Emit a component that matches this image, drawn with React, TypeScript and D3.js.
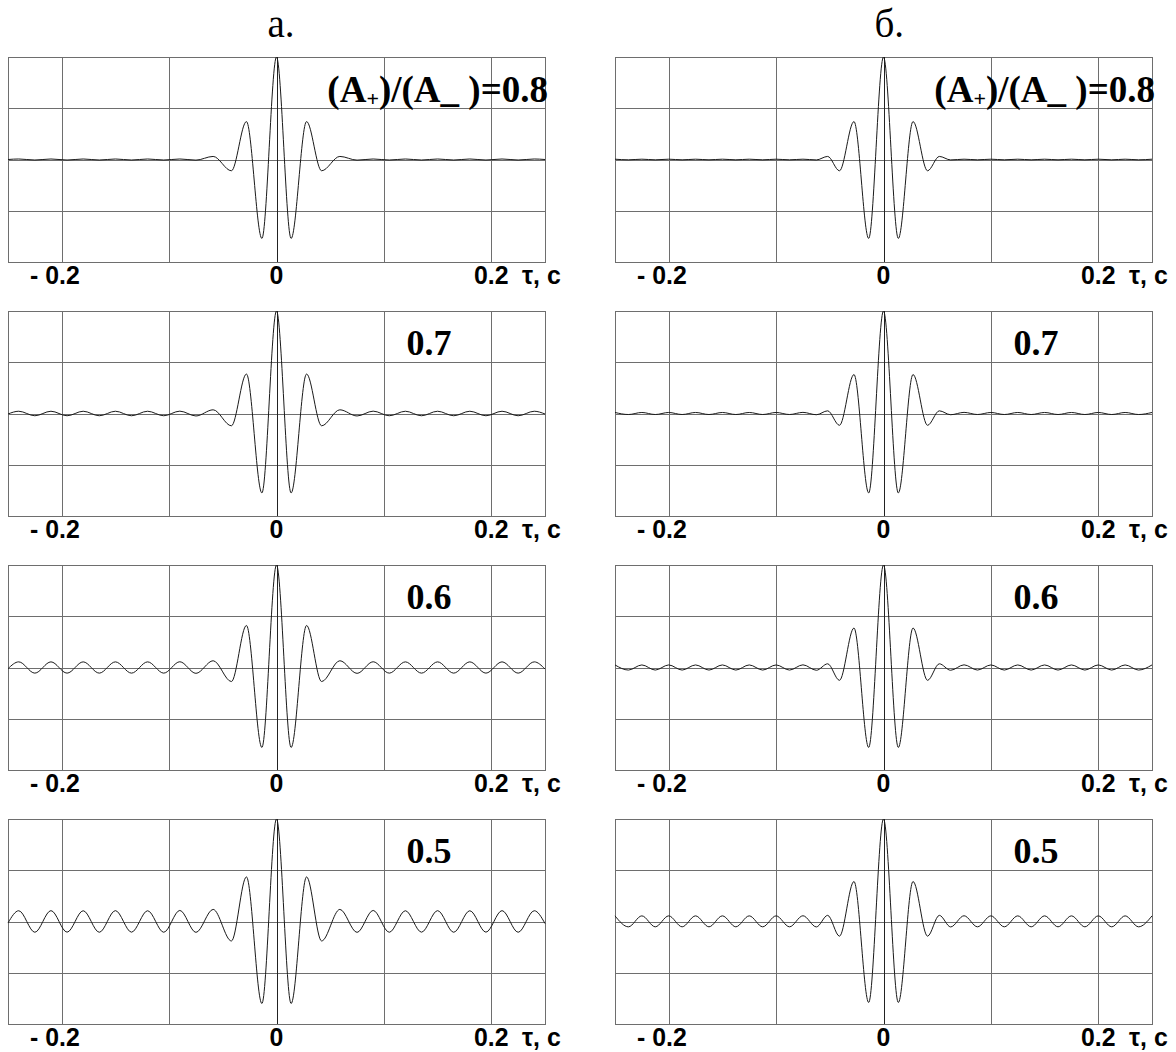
import React from "react";
import * as d3 from "d3";

// time axis (s) and grid
const tauDomain = [-0.25, 0.25];
const gridT = [-0.2, -0.1, 0, 0.1, 0.2];
const gridV = [-0.5, 0, 0.5];
const tickT = [-0.2, 0, 0.2];
const tickText = ["- 0.2", "0", "0.2"];
const unitText = "τ, c";
const columnTitles = ["а.", "б."];
const ratioText = ["0.8", "0.7", "0.6", "0.5"];

// column a: times of the extremes
const timesA = [
  -0.25, -0.24, -0.225, -0.21, -0.195, -0.18, -0.165, -0.15, -0.135, -0.12, -0.105, -0.09,
  -0.075, -0.059, -0.042, -0.028, -0.0136, 0, 0.0136, 0.028, 0.042, 0.059, 0.075, 0.09,
  0.105, 0.12, 0.135, 0.15, 0.165, 0.18, 0.195, 0.21, 0.225, 0.24, 0.25,
];
const waveA08 = [
  0, 0.005, -0.005, 0.005, -0.005, 0.005, -0.005, 0.005, -0.005, 0.005, -0.005, 0.005,
  -0.006, 0.03, -0.11, 0.37, -0.77, 1, -0.77, 0.37, -0.11, 0.03, -0.006, 0.005,
  -0.005, 0.005, -0.005, 0.005, -0.005, 0.005, -0.005, 0.005, -0.005, 0.005, 0,
];
const waveA07 = [
  -0.005, 0.022, -0.022, 0.022, -0.022, 0.022, -0.022, 0.022, -0.022, 0.022, -0.022, 0.023,
  -0.024, 0.036, -0.12, 0.385, -0.775, 1, -0.775, 0.385, -0.12, 0.036, -0.024, 0.023,
  -0.022, 0.022, -0.022, 0.022, -0.022, 0.022, -0.022, 0.022, -0.022, 0.022, -0.005,
];
const waveA06 = [
  -0.012, 0.055, -0.055, 0.055, -0.055, 0.055, -0.055, 0.055, -0.055, 0.055, -0.055, 0.056,
  -0.057, 0.066, -0.137, 0.41, -0.78, 1, -0.78, 0.41, -0.137, 0.066, -0.057, 0.056,
  -0.055, 0.055, -0.055, 0.055, -0.055, 0.055, -0.055, 0.055, -0.055, 0.055, -0.015,
];
const waveA05 = [
  -0.015, 0.105, -0.105, 0.106, -0.104, 0.105, -0.105, 0.106, -0.104, 0.105, -0.105, 0.108,
  -0.106, 0.118, -0.19, 0.435, -0.8, 1, -0.8, 0.435, -0.19, 0.118, -0.106, 0.108,
  -0.105, 0.105, -0.104, 0.106, -0.105, 0.105, -0.104, 0.106, -0.105, 0.105, -0.02,
];

// column б
const timesB = [
  -0.25, -0.2375, -0.225, -0.2125, -0.2, -0.1875, -0.175, -0.1625, -0.15, -0.1375, -0.125,
  -0.1125, -0.1, -0.0875, -0.075, -0.0625, -0.052, -0.041, -0.0275, -0.0138, 0, 0.0138,
  0.0275, 0.041, 0.052, 0.0625, 0.075, 0.0875, 0.1, 0.1125, 0.125, 0.1375, 0.15, 0.1625,
  0.175, 0.1875, 0.2, 0.2125, 0.225, 0.2375, 0.25,
];
const waveB08 = [
  0.003, -0.003, 0.003, -0.003, 0.003, -0.003, 0.003, -0.003, 0.003, -0.003, 0.003,
  -0.003, 0.003, -0.003, 0.003, -0.004, 0.03, -0.11, 0.37, -0.77, 1, -0.77,
  0.37, -0.11, 0.03, -0.004, 0.003, -0.003, 0.003, -0.003, 0.003, -0.003, 0.003, -0.003,
  0.003, -0.003, 0.003, -0.003, 0.003, -0.003, 0.003,
];
const waveB07 = [
  0.01, -0.01, 0.01, -0.01, 0.01, -0.01, 0.01, -0.01, 0.01, -0.01, 0.01,
  -0.01, 0.01, -0.01, 0.011, -0.012, 0.026, -0.115, 0.38, -0.775, 1, -0.775,
  0.38, -0.115, 0.026, -0.012, 0.011, -0.01, 0.01, -0.01, 0.01, -0.01, 0.01, -0.01,
  0.01, -0.01, 0.01, -0.01, 0.01, -0.01, 0.01,
];
const waveB06 = [
  0.025, -0.025, 0.025, -0.025, 0.025, -0.025, 0.025, -0.025, 0.025, -0.025, 0.025,
  -0.025, 0.025, -0.025, 0.026, -0.027, 0.036, -0.125, 0.385, -0.78, 1, -0.78,
  0.385, -0.125, 0.036, -0.027, 0.026, -0.025, 0.025, -0.025, 0.025, -0.025, 0.025, -0.025,
  0.025, -0.025, 0.025, -0.025, 0.025, -0.025, 0.025,
];
const waveB05 = [
  0.055, -0.052, 0.055, -0.052, 0.055, -0.052, 0.055, -0.052, 0.055, -0.052, 0.055,
  -0.052, 0.055, -0.052, 0.056, -0.053, 0.06, -0.143, 0.39, -0.79, 1, -0.79,
  0.39, -0.143, 0.06, -0.053, 0.056, -0.052, 0.055, -0.052, 0.055, -0.052, 0.055, -0.052,
  0.055, -0.052, 0.055, -0.052, 0.055, -0.052, 0.055,
];

const columns = [
  { title: columnTitles[0], times: timesA, waves: [waveA08, waveA07, waveA06, waveA05] },
  { title: columnTitles[1], times: timesB, waves: [waveB08, waveB07, waveB06, waveB05] },
];

const W = 1176;
const H = 1052;
const colLeft = [8, 615];
const rowTop = [57, 311, 565, 819];
const panelW = 537;
const panelH = 205;
const gridColor = "#6e6e6e";
const sans = "'Liberation Sans', Arial, sans-serif";
const serif = "'Liberation Serif', 'Times New Roman', serif";

function Panel({ x0, y0, times, values, ratio, first }) {
  const x = d3.scaleLinear().domain(tauDomain).range([x0, x0 + panelW]);
  const y = d3.scaleLinear().domain([-1, 1]).range([y0 + panelH, y0]);
  const crisp = (v) => Math.round(v) + 0.5;

  const line = d3
    .line<number>()
    .x((_, i) => x(times[i]))
    .y((v) => y(v))
    .curve(d3.curveMonotoneX);

  const labelY = y0 + panelH + 22;

  return (
    <g>
      <g stroke={gridColor} strokeWidth={1} shapeRendering="crispEdges" fill="none">
        {gridT.map((t) => (
          <line key={t} x1={crisp(x(t))} x2={crisp(x(t))} y1={y0} y2={y0 + panelH} />
        ))}
        {gridV.map((v) => (
          <line key={v} x1={x0} x2={x0 + panelW} y1={crisp(y(v))} y2={crisp(y(v))} />
        ))}
        <rect x={x0 + 0.5} y={y0 + 0.5} width={panelW} height={panelH} />
      </g>
      <line x1={crisp(x(0))} x2={crisp(x(0))} y1={y0} y2={y0 + panelH} stroke="#222" strokeWidth={1} shapeRendering="crispEdges" />

      <path d={line(values) || ""} fill="none" stroke="#1a1a1a" strokeWidth={1} />

      {first ? (
        <text x={x0 + panelW + 3} y={y0 + 45} textAnchor="end" fontFamily={serif} fontWeight="bold" fontSize={37} fill="#000">
          <tspan>(A</tspan>
          <tspan fontSize={22} dy={4}>+</tspan>
          <tspan dy={-4}>)/(A_ )=</tspan>
          <tspan>{ratio}</tspan>
        </text>
      ) : (
        <text x={x0 + 421} y={y0 + 44} textAnchor="middle" fontFamily={serif} fontWeight="bold" fontSize={36} fill="#000">
          {ratio}
        </text>
      )}

      <g fontFamily={sans} fontWeight="bold" fontSize={23} fill="#000">
        {tickT.map((t, i) => (
          <text
            key={t}
            transform={`translate(${i === 0 ? x(t) + 18 : x(t)},${labelY}) scale(1.08,1.1)`}
            textAnchor={i === 0 ? "end" : "middle"}
          >
            {tickText[i]}
          </text>
        ))}
        <text transform={`translate(${x0 + 514},${labelY}) scale(1.08,1.1)`}>{unitText}</text>
      </g>
    </g>
  );
}

export default function App() {
  return (
    <svg width={W} height={H} style={{ position: "absolute", left: 0, top: 0, background: "#fff" }}>
      <rect width={W} height={H} fill="#fff" />
      {columns.map((col, c) => (
        <g key={c}>
          <text x={colLeft[c] + panelW / 2 - 9} y={37} fontFamily={serif} fontSize={39} fill="#000">
            {col.title}
          </text>
          {col.waves.map((w, r) => (
            <Panel
              key={r}
              x0={colLeft[c]}
              y0={rowTop[r]}
              times={col.times}
              values={w}
              ratio={ratioText[r]}
              first={r === 0}
            />
          ))}
        </g>
      ))}
    </svg>
  );
}
